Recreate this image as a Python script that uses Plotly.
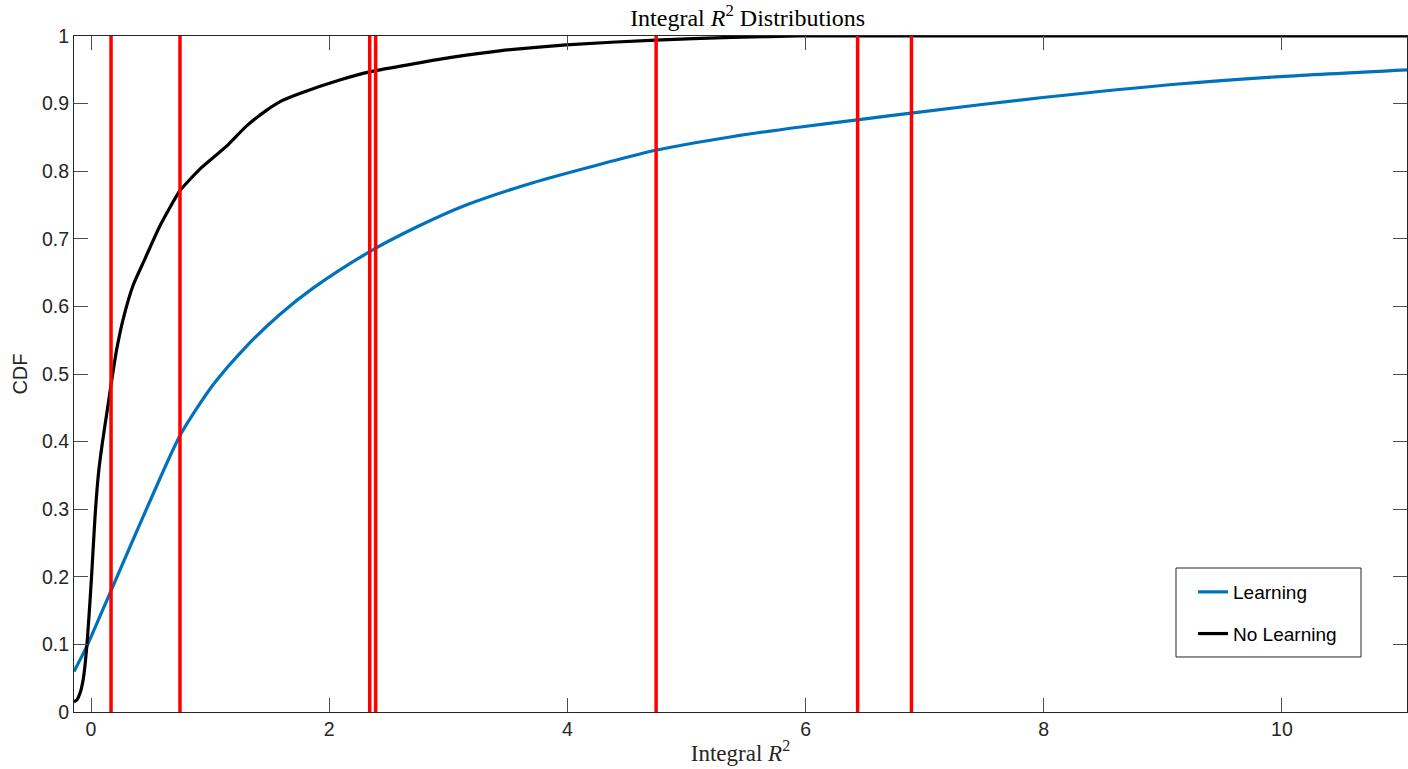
import plotly.graph_objects as go

# ---- data ----
learning_x = [-0.143, -0.036, 0.159, 0.383, 0.662, 0.760, 1.025, 1.305, 1.585, 1.864,
              2.34, 2.73, 3.15, 3.71, 4.27, 4.74, 5.38, 5.94, 6.434, 6.887,
              7.99, 9.13, 9.99, 11.05]
learning_y = [0.060, 0.097, 0.176, 0.267, 0.378, 0.413, 0.484, 0.541, 0.588, 0.627,
              0.681, 0.717, 0.750, 0.783, 0.810, 0.831, 0.851, 0.865, 0.876, 0.886,
              0.909, 0.929, 0.940, 0.950]

nolearn_x = [-0.143, -0.118, -0.092, -0.064, -0.034, -0.008, 0.006, 0.034, 0.062, 0.095,
             0.135, 0.173, 0.215, 0.271, 0.355, 0.439, 0.578, 0.746, 0.914, 1.138,
             1.30, 1.473, 1.60, 1.752, 2.088, 2.34, 2.65, 3.01, 3.43, 3.99,
             4.74, 5.38, 5.94, 11.05]
nolearn_y = [0.015, 0.018, 0.028, 0.050, 0.100, 0.166, 0.205, 0.290, 0.352, 0.398,
             0.445, 0.490, 0.536, 0.582, 0.632, 0.665, 0.719, 0.771, 0.803, 0.837,
             0.866, 0.890, 0.904, 0.915, 0.935, 0.947, 0.957, 0.968, 0.978, 0.987,
             0.994, 0.998, 1.0, 1.0]

red_lines_x = [0.168, 0.747, 2.34, 2.39, 4.745, 6.437, 6.889]

x_ticks = [0, 2, 4, 6, 8, 10]
y_ticks = [0, 0.1, 0.2, 0.3, 0.4, 0.5, 0.6, 0.7, 0.8, 0.9, 1]
y_tick_text = ["0", "0.1", "0.2", "0.3", "0.4", "0.5", "0.6", "0.7", "0.8", "0.9", "1"]

series_names = ["Learning", "No Learning"]
title_text = "Integral <i>R</i><sup>2</sup> Distributions"
x_label = "Integral <i>R</i><sup>2</sup>"
y_label = "CDF"

# ---- figure ----
fig = go.Figure()

fig.add_trace(go.Scatter(
    x=learning_x, y=learning_y, mode="lines", name=series_names[0],
    line=dict(color="#0072BD", width=3.2, shape="spline", smoothing=0.8),
    legendgroup="a"))
fig.add_trace(go.Scatter(
    x=nolearn_x, y=nolearn_y, mode="lines", name=series_names[1],
    line=dict(color="#000000", width=3.2, shape="spline", smoothing=0.5),
    legendgroup="b"))

rx, ry = [], []
for v in red_lines_x:
    rx += [v, v, None]
    ry += [0, 1, None]
fig.add_trace(go.Scatter(
    x=rx, y=ry, mode="lines", showlegend=False,
    line=dict(color="#FF0000", width=3.5)))

axis_common = dict(
    showgrid=False, zeroline=False, showline=True, linecolor="#262626",
    linewidth=1, mirror="ticks", ticks="inside", ticklen=14, tickwidth=1,
    tickcolor="#4d4d4d",
    tickfont=dict(family="Liberation Sans, Arial, sans-serif", size=19.5, color="#262626"),
)

fig.update_xaxes(range=[-0.143, 11.05], tickvals=x_ticks,
                 ticktext=[str(t) for t in x_ticks],
                 title=dict(text=x_label, standoff=5,
                            font=dict(family="Liberation Serif, Times New Roman, serif",
                                      size=23, color="#262626")),
                 **axis_common)
fig.update_yaxes(range=[0, 1], tickvals=y_ticks, ticktext=y_tick_text,
                 title=dict(text=y_label, standoff=8,
                            font=dict(family="Liberation Sans, Arial, sans-serif",
                                      size=20, color="#262626")),
                 **axis_common)

# legend frame drawn as a paper-referenced rectangle
fig.add_shape(type="rect", xref="paper", yref="paper",
              x0=0.8267, x1=0.9655, y0=0.0814, y1=0.213,
              line=dict(color="#262626", width=1), fillcolor="white", layer="below")

fig.update_layout(
    width=1408, height=769,
    margin=dict(l=74, r=1, t=36, b=57),
    paper_bgcolor="white", plot_bgcolor="rgba(0,0,0,0)",
    title=dict(text=title_text, x=0.531, xanchor="center", y=0.9765, yanchor="middle",
               font=dict(family="Liberation Serif, Times New Roman, serif", size=24,
                         color="#000000")),
    legend=dict(x=0.8395, y=0.2056, xanchor="left", yanchor="top",
                bgcolor="rgba(0,0,0,0)", borderwidth=0,
                font=dict(family="Liberation Sans, Arial, sans-serif", size=19,
                          color="#000000"),
                tracegroupgap=14, itemwidth=30),
    showlegend=True,
)

fig.write_html(
    "out.html",
    config={"displayModeBar": False},
    post_script="document.body.style.margin='0';document.body.style.overflow='hidden';",
)
